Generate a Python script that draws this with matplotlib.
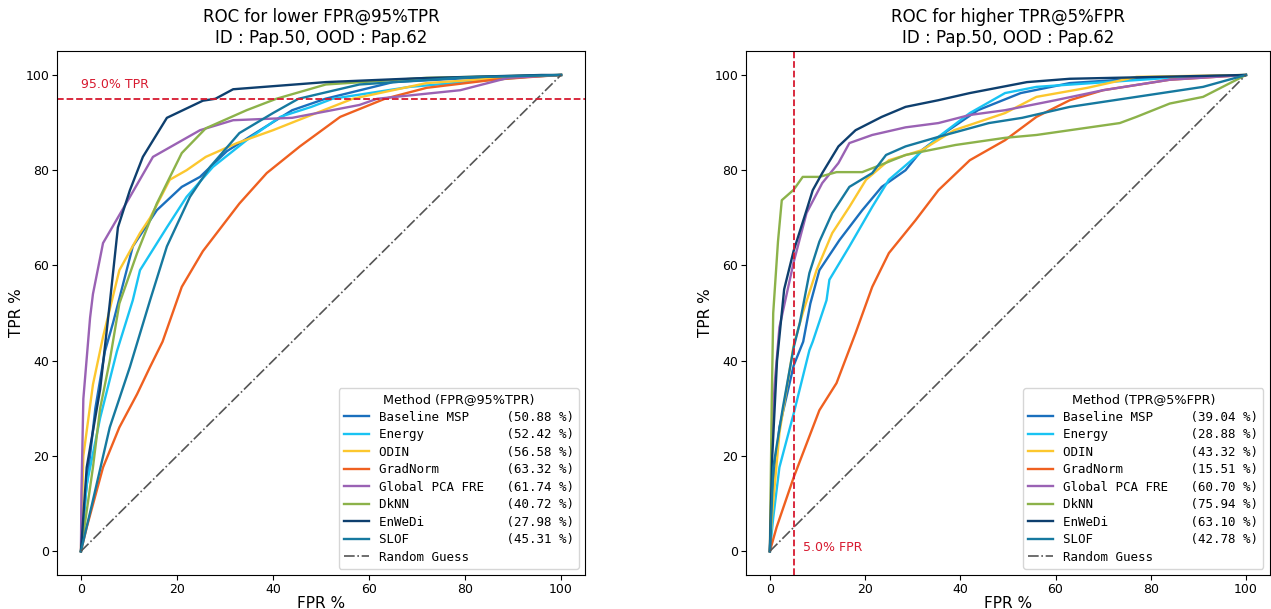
import matplotlib
matplotlib.use("Agg")
import matplotlib.pyplot as plt

methods = ['Baseline MSP', 'Energy', 'ODIN', 'GradNorm', 'Global PCA FRE',
           'DkNN', 'EnWeDi', 'SLOF']
colors = ['#1a6fbd', '#19c3f3', '#fcc72e', '#ef6020', '#9a62b4',
          '#8cb24a', '#0e3f6e', '#16799f']

# FPR@95%TPR values (left panel legend)
fpr_at_95 = [50.88, 52.42, 56.58, 63.32, 61.74, 40.72, 27.98, 45.31]
# TPR@5%FPR values (right panel legend)
tpr_at_5 = [39.04, 28.88, 43.32, 15.51, 60.70, 75.94, 63.10, 42.78]

# ---- left panel curves (FPR %, TPR %) ----
lo_msp_x = [0, 1, 3, 5, 6.7, 10.8, 15.8, 21, 24.8, 30.4, 37.3, 44, 50.9, 65, 80, 100]
lo_msp_y = [0, 12, 30, 42, 48, 64, 71.6, 76.5, 78.6, 84, 88.4, 92.6, 95, 98.5, 99.3, 100]
lo_energy_x = [0, 1.2, 4, 7.5, 10.8, 12.3, 17.9, 22, 27.5, 34.5, 41.5, 48, 52.4, 68.5, 93, 100]
lo_energy_y = [0, 14, 28, 42, 52.7, 59, 68, 74.4, 80.7, 86.3, 91.2, 93.3, 95, 97.5, 99.6, 100]
lo_odin_x = [0, 0.5, 2.5, 4.6, 8, 12.3, 14.4, 18.5, 22, 26, 32.5, 40, 47, 56.6, 72, 90, 100]
lo_odin_y = [0, 20, 35, 45, 59, 66.8, 70, 78, 80, 82.8, 85.7, 88.4, 91.2, 95, 98.3, 99.5, 100]
lo_grad_x = [0, 1.2, 4.6, 8, 11.7, 14.4, 17, 21, 25.4, 33, 38.7, 45.6, 54, 63.3, 72, 86, 94, 100]
lo_grad_y = [0, 5, 17.6, 26, 33, 38.7, 44, 55.5, 63, 73, 79.4, 85, 91.2, 95, 97.3, 99, 99.6, 100]
lo_pca_x = [0, 0.1, 0.5, 1.9, 2.5, 4.6, 10.2, 15, 24.8, 31.7, 44, 58, 61.7, 79, 89, 100]
lo_pca_y = [0, 12, 32, 49, 54, 64.7, 74.4, 82.8, 88.4, 90.5, 91, 93.7, 95, 96.8, 99.4, 100]
lo_dknn_x = [0, 2.5, 4, 6, 8, 11.7, 15.8, 21, 26, 34.5, 40.7, 51, 72, 100]
lo_dknn_y = [0, 17.6, 30, 40, 52, 62.6, 73, 83.6, 88.8, 92.6, 95, 98, 99.4, 100]
lo_enwedi_x = [0, 1.2, 4, 6, 7.7, 10.2, 12.9, 17.9, 25.4, 28, 31.7, 51, 70, 96, 100]
lo_enwedi_y = [0, 17.6, 34, 52, 68, 75.8, 82.8, 91, 94.6, 95, 97, 98.5, 99.3, 100, 100]
lo_slof_x = [0, 2.5, 6, 10.2, 14.4, 17.9, 22.7, 26.9, 33, 40, 45.3, 58, 80, 100]
lo_slof_y = [0, 10.7, 26, 38.7, 52.7, 64, 74.4, 80.7, 87.8, 92, 95, 98, 99.5, 100]

# ---- right panel curves (FPR %, TPR %) ----
hi_msp_x = [0, 0.4, 2, 5, 7, 8.5, 10.4, 14.6, 19.4, 23.5, 28.5, 31.9, 37.5, 43.7, 52.7, 63, 80, 100]
hi_msp_y = [0, 10.7, 26, 39, 44, 52, 59, 65.3, 71.6, 76.5, 80, 84.2, 88.4, 92.6, 96.2, 98.3, 99.4, 100]
hi_energy_x = [0, 0.7, 2, 5, 8.3, 9, 11.9, 12.5, 16.7, 21.5, 25, 30.6, 35.4, 42, 49.4, 56, 84, 100]
hi_energy_y = [0, 7, 17.6, 28.9, 42.2, 44, 52.7, 57, 64, 72.3, 78, 82.8, 87, 92, 96.2, 97.5, 99.4, 100]
hi_odin_x = [0, 0.4, 2, 5, 6.9, 9.8, 13.1, 16.7, 20.2, 25, 31.9, 38.7, 49.4, 56, 66.7, 77, 100]
hi_odin_y = [0, 7, 24.8, 43.3, 50, 59, 66.8, 72.3, 78, 82.1, 84.2, 88.4, 92, 95.4, 97.3, 99.6, 100]
hi_grad_x = [0, 1.4, 5, 10.4, 14, 18, 21.5, 25, 30.6, 35.4, 42, 49.4, 56, 63, 70, 84, 100]
hi_grad_y = [0, 5, 15.5, 29.6, 35.3, 45.8, 55.5, 62.6, 69.5, 75.8, 82.1, 86.3, 91.2, 94.7, 96.8, 99, 100]
hi_pca_x = [0, 0.5, 1, 2, 5, 7.7, 11, 14.4, 16.7, 21.5, 28.5, 35.4, 42, 49.4, 60, 70, 84, 100]
hi_pca_y = [0, 25, 35, 47, 60.7, 71, 77.3, 81.5, 85.7, 87.4, 89, 89.9, 91.6, 92.6, 94.7, 96.8, 99, 100]
hi_dknn_x = [0, 0.4, 0.7, 1.7, 2.5, 5, 6.9, 10.4, 14, 19.4, 23, 28.5, 39, 49.4, 56, 63, 73.5, 77, 84, 91, 100]
hi_dknn_y = [0, 31.7, 50, 65, 73.7, 75.9, 78.6, 78.6, 79.6, 79.6, 81, 83.2, 85.3, 86.8, 87.4, 88.4, 89.9, 91.2, 94, 95.4, 100]
hi_enwedi_x = [0, 0.5, 1.5, 3, 5, 7.7, 9, 11, 14.4, 18, 23.5, 28.5, 35.4, 42, 54, 63, 100]
hi_enwedi_y = [0, 20, 40, 55, 63.1, 71.6, 75.8, 79.4, 85, 88.4, 91.2, 93.3, 94.7, 96.2, 98.5, 99.2, 100]
hi_slof_x = [0, 0.7, 2.7, 5, 6.3, 8.3, 10.4, 13.1, 16.7, 21.5, 24.4, 28.5, 35.4, 46, 53, 63, 77, 91, 100]
hi_slof_y = [0, 17.6, 30, 42.8, 48, 58.4, 65, 71, 76.5, 79.4, 83.2, 85, 87, 89.9, 91, 93.3, 95.4, 97.5, 100]

lo_curves = [(lo_msp_x, lo_msp_y), (lo_energy_x, lo_energy_y), (lo_odin_x, lo_odin_y),
             (lo_grad_x, lo_grad_y), (lo_pca_x, lo_pca_y), (lo_dknn_x, lo_dknn_y),
             (lo_enwedi_x, lo_enwedi_y), (lo_slof_x, lo_slof_y)]
hi_curves = [(hi_msp_x, hi_msp_y), (hi_energy_x, hi_energy_y), (hi_odin_x, hi_odin_y),
             (hi_grad_x, hi_grad_y), (hi_pca_x, hi_pca_y), (hi_dknn_x, hi_dknn_y),
             (hi_enwedi_x, hi_enwedi_y), (hi_slof_x, hi_slof_y)]

mono = 'DejaVu Sans Mono'
red = '#d7192f'

fig = plt.figure(figsize=(12.71, 6.09), dpi=100)
ax1 = fig.add_axes([0.0448, 0.0558, 0.4155, 0.8602])
ax2 = fig.add_axes([0.5870, 0.0558, 0.4120, 0.8602])


def draw(ax, curves, scores, title, legend_title):
    for (x, y), name, c, s in zip(curves, methods, colors, scores):
        ax.plot(x, y, color=c, lw=1.7, label=f"{name:<17}({s:.2f} %)")
    ax.plot([0, 100], [0, 100], color='#555555', ls='-.', lw=1.2,
            label='Random Guess')
    ax.set_xlim(-5, 105)
    ax.set_ylim(-5, 105)
    ax.set_xticks([0, 20, 40, 60, 80, 100])
    ax.set_yticks([0, 20, 40, 60, 80, 100])
    ax.tick_params(labelsize=9, pad=2)
    ax.set_xlabel('FPR %', fontsize=11, labelpad=0)
    ax.set_ylabel('TPR %', fontsize=11, labelpad=1)
    ax.set_title(title, fontsize=12)
    leg = ax.legend(loc='lower right', title=legend_title,
                    title_fontsize=9.2, prop={'family': mono, 'size': 9},
                    labelspacing=0.36)
    return leg


draw(ax1, lo_curves, fpr_at_95,
     'ROC for lower FPR@95%TPR\nID : Pap.50, OOD : Pap.62', 'Method (FPR@95%TPR)')
ax1.axhline(95, color=red, ls='--', lw=1.3)
ax1.text(0, 97.3, '95.0% TPR', color=red, fontsize=9)

draw(ax2, hi_curves, tpr_at_5,
     'ROC for higher TPR@5%FPR\nID : Pap.50, OOD : Pap.62', 'Method (TPR@5%FPR)')
ax2.axvline(5, color=red, ls='--', lw=1.3)
ax2.text(7, 0, '5.0% FPR', color=red, fontsize=9)

fig.savefig('out.png', dpi=100)
